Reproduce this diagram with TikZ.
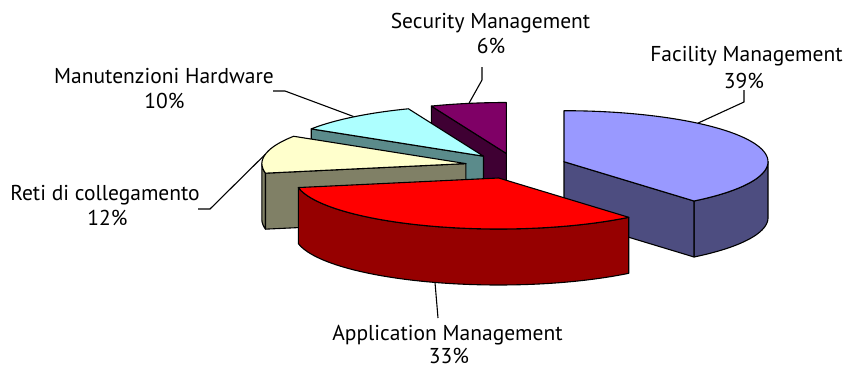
\documentclass[tikz,border=0pt]{standalone}
\usepackage{fontspec}
\setmainfont{PT Sans}
\begin{document}
\begin{tikzpicture}[x=1pt,y=-1pt,
  edge/.style={draw=black,line width=1.1pt,line join=round},
  leader/.style={draw=black,line width=1.1pt},
  lbl/.style={anchor=base,inner sep=0pt,font=\fontsize{21.5}{25}\selectfont}]
\useasboundingbox (0,0) rectangle (850,369);
% ellipse radii and slice thickness
\def\R{204}\def\r{51}\def\H{56}
% top face of a slice: apex (#1,#2), angles #3..#4 clockwise from the back
\newcommand\slicetop[5]{%
  \filldraw[edge,fill=#5] (#1,#2) -- plot[domain=#3:#4,samples=60]
    ({#1+\R*sin(\x)},{#2-\r*cos(\x)}) -- cycle;}
% curved outer wall between angles #3..#4
\newcommand\sliceouter[5]{%
  \filldraw[edge,fill=#5] plot[domain=#3:#4,samples=60]
    ({#1+\R*sin(\x)},{#2-\r*cos(\x)}) -- plot[domain=#4:#3,samples=60]
    ({#1+\R*sin(\x)},{#2+\H-\r*cos(\x)}) -- cycle;}
% flat radial wall along angle #3
\newcommand\sliceradial[4]{%
  \filldraw[edge,fill=#4] (#1,#2) -- ({#1+\R*sin(#3)},{#2-\r*cos(#3)})
    -- ({#1+\R*sin(#3)},{#2+\H-\r*cos(#3)}) -- ({#1},{#2+\H}) -- cycle;}

\definecolor{facTop}{HTML}{9999FF}\definecolor{facSide}{HTML}{4D4D80}
\definecolor{appTop}{HTML}{FF0000}\definecolor{appSide}{HTML}{960000}
\definecolor{retTop}{HTML}{FFFFCC}\definecolor{retSide}{HTML}{808066}
\definecolor{manTop}{HTML}{ADFFFF}\definecolor{manSide}{HTML}{5B8B8B}
\definecolor{secTop}{HTML}{7F0066}\definecolor{secSide}{HTML}{3F0033}

% Security Management 6%
\sliceradial{506.4}{153.5}{338.4}{secSide}
\slicetop{506.4}{153.5}{338.4}{360}{secTop}
% Manutenzioni Hardware 10%
\sliceradial{483.5}{156.2}{302.4}{manSide}
\slicetop{483.5}{156.2}{302.4}{338.4}{manTop}
% Reti di collegamento 12%
\sliceouter{465.9}{163.6}{259.2}{270}{retSide}
\sliceradial{465.9}{163.6}{259.2}{retSide}
\slicetop{465.9}{163.6}{259.2}{302.4}{retTop}
% Facility Management 39%
\sliceouter{564}{161.7}{90}{140.4}{facSide}
\sliceradial{564}{161.7}{140.4}{facSide}
\slicetop{564}{161.7}{0}{140.4}{facTop}
% Application Management 33%
\sliceouter{498.7}{178}{140.4}{259.2}{appSide}
\slicetop{498.7}{178}{140.4}{259.2}{appTop}

% labels
\node[lbl] (secname) at (490.5,29) {Security Management};
\node[lbl] (secpct)  at (491,53) {6\%};
\node[lbl] (facname) at (746.5,62) {Facility Management};
\node[lbl] (facpct)  at (744,88) {39\%};
\node[lbl] (manname) at (164,83) {Manutenzioni Hardware};
\node[lbl] (manpct)  at (164.5,108) {10\%};
\node[lbl] (retname) at (105,200) {Reti di collegamento};
\node[lbl] (retpct)  at (107.5,225) {12\%};
\node[lbl] (appname) at (447.5,340.5) {Application Management};
\node[lbl] (apppct)  at (449,363.5) {33\%};

% leader lines
\coordinate (secA) at (482,67);   \coordinate (secB) at (468.9,103.4);
\coordinate (facA) at (744,90);   \coordinate (facB) at (697.8,123.2);
\coordinate (manA) at (273,91);   \coordinate (manB) at (353.5,116.5);
\coordinate (retA) at (198,209);  \coordinate (retB) at (265.5,154.1);
\coordinate (appA) at (438,318);  \coordinate (appB) at (435,282.5);
\draw[leader] (secA) -- ++(0,13) -- (secB);
\draw[leader] (facA) -- ++(0,12) -- (facB);
\draw[leader] (manA) -- ++(12,0) -- (manB);
\draw[leader] (retA) -- ++(12,0) -- (retB);
\draw[leader] (appA) -- (appB);
\end{tikzpicture}
\end{document}
